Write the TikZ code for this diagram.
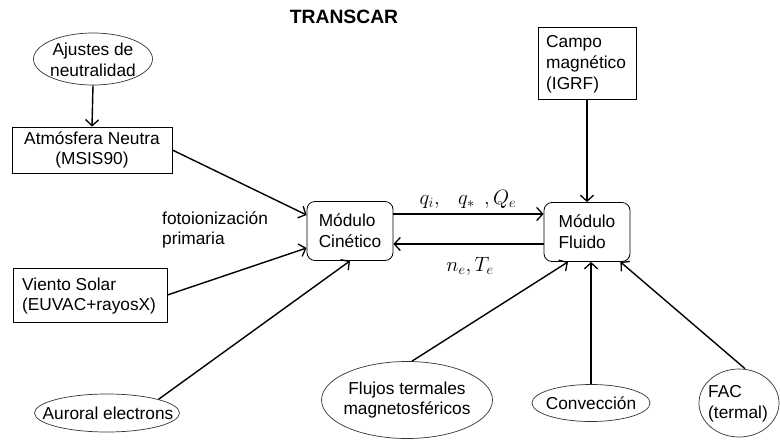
\documentclass[tikz,border=0pt]{standalone}
\usepackage{fontspec}
\setmainfont{Liberation Sans}
\usetikzlibrary{shapes.geometric,arrows.meta}
\begin{document}
\begin{tikzpicture}[x=1pt,y=-1pt,
  every node/.style={font=\fontsize{17.3}{20.8}\selectfont},
  box/.style={draw=black,line width=0.8pt,rectangle,inner sep=0pt},
  modbox/.style={draw=black,line width=0.8pt,rectangle,rounded corners=8pt,inner sep=0pt,
    minimum width=86pt,minimum height=59pt,align=left},
  oval/.style={draw=black!80,line width=0.7pt,ellipse,inner sep=0pt},
  txt/.style={align=center,inner sep=0pt},
  arr/.style={line width=1.4pt,-{Straight Barb[length=6pt,width=13pt,line width=1.3pt]}},
  mathlbl/.style={font=\fontsize{22}{24}\selectfont,inner sep=0pt}]
\useasboundingbox (0,0) rectangle (780,440);

% title
\node[font=\bfseries\fontsize{19.3}{22}\selectfont] (title) at (344,17) {TRANSCAR};

% left column inputs
\node[oval,minimum width=119pt,minimum height=52pt] (ajus) at (93,59) {};
\node[txt] (ajus-t) at (93,60) {Ajustes de\\neutralidad};

\node[box,minimum width=160pt,minimum height=46pt,align=center] (atm) at (92,150) {Atmósfera Neutra\\(MSIS90)};

\node[align=left,inner sep=0pt,anchor=west] (foto) at (162,230) {fotoionización\\primaria};

\node[box,minimum width=154pt,minimum height=54pt] (vie) at (90,295) {};
\node[align=left,inner sep=0pt,anchor=west] (vie-t) at (22,296) {Viento Solar\\(EUVAC+rayosX)};

\node[oval,minimum width=145pt,minimum height=38pt] (aur) at (107,413) {};
\node[txt] (aur-t) at (108,413) {Auroral electrons};

% the two modules
\node[modbox] (cin) at (350,231) {Módulo\\Cinético};
\node[modbox] (flu) at (587,232) {Módulo\\Fluido};

% magnetic field box
\node[box,minimum width=98pt,minimum height=72pt] (cam) at (587,63) {};
\node[align=left,inner sep=0pt,anchor=west] (cam-t) at (546,64) {Campo\\magnético\\(IGRF)};

% bottom inputs to the fluid module
\node[oval,minimum width=171pt,minimum height=77pt] (flj) at (407,400) {};
\node[txt] (flj-t) at (407,400) {Flujos termales\\magnetosféricos};

\node[oval,minimum width=118pt,minimum height=37pt] (con) at (591,403) {};
\node[txt] (con-t) at (591,403) {Convección};

\node[oval,minimum width=80pt,minimum height=68pt] (fac) at (739,403) {};
\node[align=left,inner sep=0pt,anchor=west] (fac-t) at (708,404) {FAC\\(termal)};

% exchanged quantities
\node[mathlbl] (qlbl) at (468,199) {$q_i,\;\;\, q_*\;\,,Q_e$};
\node[mathlbl] (nlbl) at (470,266) {$n_e,T_e$};

% connectors
\draw[arr] (ajus.south) -- (atm.north);
\draw[arr] (atm.east) -- ([yshift=16pt]cin.west);
\draw[arr] (vie.east) -- ([yshift=-17pt]cin.west);
\draw[arr] (aur.north east) -- (cin.south);
\draw[arr] ([yshift=17pt]cin.east) -- ([yshift=17pt]cin.east -| flu.west);
\draw[arr] ([yshift=-12pt]flu.west) -- ([yshift=-12pt]flu.west -| cin.east);
\draw[arr] (cam.south) -- (flu.north);
\draw[arr] ([xshift=5pt]flj.north) -- ([xshift=-19pt]flu.south);
\draw[arr] (con.north) -- (con.north |- flu.south);
\draw[arr] ([xshift=6pt]fac.north) -- ([xshift=-10pt]flu.south east);
\end{tikzpicture}
\end{document}
